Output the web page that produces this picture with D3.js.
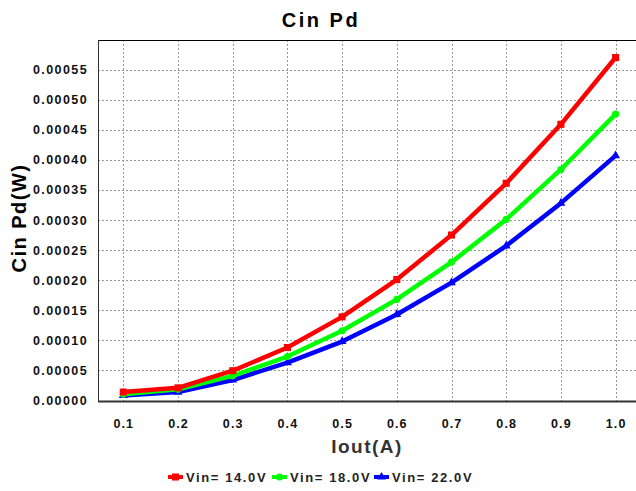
<!DOCTYPE html>
<html>
<head>
<meta charset="utf-8">
<script src="https://cdn.jsdelivr.net/npm/d3@7"></script>
<style>
	body { margin: 0; background: #fff; }
	text { font-family: 'Liberation Sans', Arial, sans-serif; font-weight: bold; }
</style>
</head>
<body>
<svg id="chart" width="636" height="491"></svg>
<script>

// chart data
var iout = [0.1, 0.2, 0.3, 0.4, 0.5, 0.6, 0.7, 0.8, 0.9, 1.0]
	, vin14 = [0.0000140, 0.0000210, 0.0000495, 0.0000880, 0.000139, 0.000201, 0.000275, 0.000361, 0.000459, 0.000570]
	, vin18 = [0.0000105, 0.0000185, 0.0000410, 0.0000730, 0.000116, 0.000168, 0.000230, 0.000301, 0.000384, 0.000476]
	, vin22 = [0.0000085, 0.0000140, 0.0000340, 0.0000630, 0.0000980, 0.000143, 0.000196, 0.000257, 0.000328, 0.000407]
	, seriesNames = ['Vin= 14.0V', 'Vin= 18.0V', 'Vin= 22.0V']
	, yTicks = [0, 0.00005, 0.0001, 0.00015, 0.0002, 0.00025, 0.0003, 0.00035, 0.0004, 0.00045, 0.0005, 0.00055]

var series = [
	{ name: seriesNames[0], values: vin14, color: '#ff0000', shape: d3.symbolSquare, size: 50 }
	, { name: seriesNames[1], values: vin18, color: '#00ff00', shape: d3.symbolCircle, size: 40 }
	, { name: seriesNames[2], values: vin22, color: '#0000ff', shape: d3.symbolTriangle, size: 34 }
]

var svg = d3.select('#chart')
	, plot = { left: 98, top: 40, right: 636, bottom: 401 }

var x = d3.scaleLinear()
	.domain([0.1, 1.0])
	.range([plot.left + 25.3, plot.left + 517.6])

var y = d3.scaleLinear()
	.domain([0, 0.0006])
	.range([plot.bottom - 0.5, plot.top - 0.5])

/**
 * grid lines (dotted)
 */
var grid = svg.append('g')

grid.selectAll('.hgrid').data(yTicks.slice(1))
  .enter()
	.append('line')
	.attr('x1', plot.left)
	.attr('x2', plot.right)
	.attr('y1', function(d) { return Math.round(y(d)) + 0.5 })
	.attr('y2', function(d) { return Math.round(y(d)) + 0.5 })
	.style('stroke', '#999')
	.style('stroke-dasharray', '2,2')

grid.selectAll('.vgrid').data(iout)
  .enter()
	.append('line')
	.attr('x1', function(d) { return Math.round(x(d)) + 0.5 })
	.attr('x2', function(d) { return Math.round(x(d)) + 0.5 })
	.attr('y1', plot.top)
	.attr('y2', plot.bottom)
	.style('stroke', '#999')
	.style('stroke-dasharray', '2,2')

// plot frame
svg.append('line')
	.attr('x1', plot.left).attr('x2', plot.right)
	.attr('y1', plot.top + 0.5).attr('y2', plot.top + 0.5)
	.style('stroke', '#000')
svg.append('line')
	.attr('x1', plot.left + 0.5).attr('x2', plot.left + 0.5)
	.attr('y1', plot.top).attr('y2', plot.bottom)
	.style('stroke', '#333')
svg.append('line')
	.attr('x1', plot.left).attr('x2', plot.right)
	.attr('y1', plot.bottom + 0.5).attr('y2', plot.bottom + 0.5)
	.style('stroke', '#333')
	.style('stroke-width', 2)

/**
 * axes labels
 */
var yAxis = d3.axisLeft(y)
	.tickValues(yTicks)
	.tickFormat(d3.format('.5f'))
	.tickSize(0)
	.tickPadding(10)

var yg = svg.append('g')
	.attr('transform', 'translate(' + plot.left + ',0)')
	.call(yAxis)
yg.select('.domain').remove()
yg.selectAll('text')
	.style('font-size', '12.5px')
	.style('letter-spacing', '1.4px')
	.style('font-family', "'Liberation Sans', Arial, sans-serif")
	.style('fill', '#111')

var xAxis = d3.axisBottom(x)
	.tickValues(iout)
	.tickFormat(d3.format('.1f'))
	.tickSize(0)
	.tickPadding(18)

var xg = svg.append('g')
	.attr('transform', 'translate(0,' + plot.bottom + ')')
	.call(xAxis)
xg.select('.domain').remove()
xg.selectAll('text')
	.style('font-size', '12.5px')
	.style('letter-spacing', '1.1px')
	.style('font-family', "'Liberation Sans', Arial, sans-serif")
	.style('fill', '#111')

/**
 * series lines and markers (last series first, so red ends on top)
 */
var line = d3.line()
	.x(function(d, i) { return x(iout[i]) })
	.y(function(d) { return y(d) })

series.slice().reverse().forEach(function(s) {

	svg.append('path')
		.datum(s.values)
		.attr('d', line)
		.style('fill', 'none')
		.style('stroke', s.color)
		.style('stroke-width', 4.5)
		.style('stroke-linejoin', 'round')

	svg.selectAll(null).data(s.values)
	  .enter()
		.append('path')
		.attr('d', d3.symbol().type(s.shape).size(s.size))
		.attr('transform', function(d, i) { return 'translate(' + x(iout[i]) + ',' + y(d) + ')' })
		.style('fill', s.color)
})

/**
 * titles
 */
svg.append('text')
	.attr('x', 321)
	.attr('y', 27)
	.attr('text-anchor', 'middle')
	.style('font-size', '20px')
	.style('letter-spacing', '2.5px')
	.text('Cin Pd')

svg.append('text')
	.attr('x', (plot.left + plot.right) / 2)
	.attr('y', 453)
	.attr('text-anchor', 'middle')
	.style('font-size', '19px')
	.style('letter-spacing', '1.5px')
	.style('fill', '#333')
	.text('Iout(A)')

svg.append('text')
	.attr('transform', 'translate(26,218) rotate(-90)')
	.attr('text-anchor', 'middle')
	.style('font-size', '20px')
	.style('letter-spacing', '1.5px')
	.text('Cin Pd(W)')

/**
 * legend
 */
var legendX = [168, 272, 374]

var legend = svg.selectAll('.legend').data(series)
  .enter()
	.append('g')
	.attr('transform', function(d, i) { return 'translate(' + legendX[i] + ',477)' })

legend.append('line')
	.attr('x1', 0).attr('x2', 15)
	.style('stroke', function(d) { return d.color })
	.style('stroke-width', 4)
legend.append('path')
	.attr('transform', 'translate(7.5,0)')
	.attr('d', function(d) { return d3.symbol().type(d.shape).size(d.size)() })
	.style('fill', function(d) { return d.color })
legend.append('text')
	.attr('x', 18)
	.attr('y', 5)
	.style('font-size', '13px')
	.style('letter-spacing', '1.6px')
	.style('fill', '#222')
	.text(function(d) { return d.name })

</script>
</body>
</html>
